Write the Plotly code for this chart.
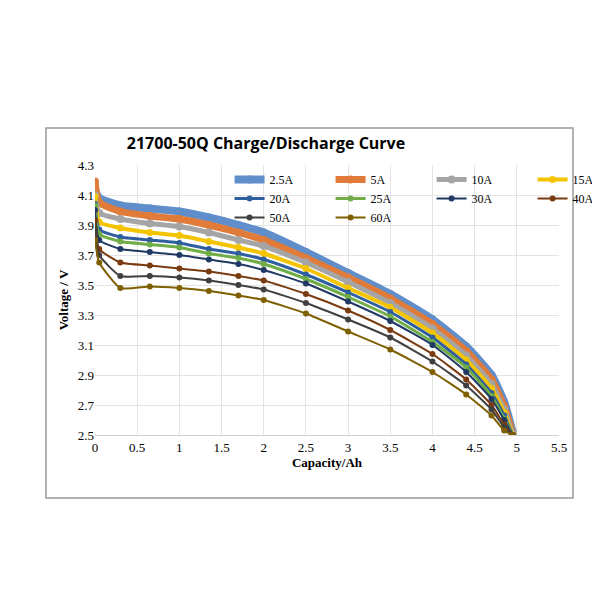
import plotly.graph_objects as go

capacity = [0, 0.05, 0.3, 0.65, 1.0, 1.35, 1.7, 2.0, 2.5, 3.0, 3.5, 4.0, 4.4, 4.7, 4.85, 4.95]
labels = ["2.5A", "5A", "10A", "15A", "20A", "25A", "30A", "40A", "50A", "60A"]
colors = ["#5f8ecb", "#e07b39", "#a5a5a5", "#f5c400", "#2e5e9e", "#70ad47", "#1f3864", "#7a3b10", "#404040", "#7f6000"]
v_2_5 = [4.13, 4.08, 4.03, 4.01, 3.99, 3.95, 3.90, 3.85, 3.72, 3.58, 3.44, 3.27, 3.09, 2.90, 2.72, 2.52]
v_5 = [4.19, 4.05, 3.99, 3.96, 3.94, 3.90, 3.85, 3.80, 3.68, 3.55, 3.41, 3.24, 3.06, 2.87, 2.69, 2.51]
v_10 = [4.10, 3.98, 3.94, 3.91, 3.89, 3.85, 3.80, 3.76, 3.65, 3.52, 3.38, 3.21, 3.03, 2.84, 2.67, 2.51]
v_15 = [4.09, 3.92, 3.88, 3.85, 3.83, 3.79, 3.75, 3.71, 3.61, 3.48, 3.35, 3.18, 3.00, 2.81, 2.65, 2.50]
v_20 = [4.04, 3.87, 3.82, 3.80, 3.78, 3.74, 3.71, 3.67, 3.57, 3.45, 3.32, 3.15, 2.97, 2.78, 2.63, 2.50]
v_25 = [4.03, 3.84, 3.79, 3.77, 3.75, 3.71, 3.68, 3.64, 3.54, 3.42, 3.29, 3.12, 2.95, 2.76, 2.61, 2.50]
v_30 = [4.00, 3.80, 3.74, 3.72, 3.70, 3.67, 3.64, 3.60, 3.51, 3.39, 3.26, 3.10, 2.92, 2.74, 2.60, 2.50]
v_40 = [3.93, 3.74, 3.65, 3.63, 3.61, 3.59, 3.56, 3.53, 3.44, 3.33, 3.20, 3.04, 2.87, 2.70, 2.57, 2.50]
v_50 = [3.87, 3.70, 3.56, 3.56, 3.55, 3.53, 3.50, 3.47, 3.38, 3.27, 3.15, 2.99, 2.83, 2.67, 2.55, 2.50]
v_60 = [3.80, 3.65, 3.48, 3.49, 3.48, 3.46, 3.43, 3.40, 3.31, 3.19, 3.07, 2.92, 2.77, 2.63, 2.53, 2.50]
series = [v_2_5, v_5, v_10, v_15, v_20, v_25, v_30, v_40, v_50, v_60]
widths = [8, 7, 5, 4, 3, 3, 2, 2, 2, 2]
msizes = [8, 8, 8, 7, 6, 6, 6, 6, 6, 6]

fig = go.Figure()
for lab, col, v, w, ms in zip(labels, colors, series, widths, msizes):
    fig.add_trace(go.Scatter(x=capacity, y=v, name=lab, mode="lines+markers",
                             line=dict(color=col, width=w, shape="spline", smoothing=0.5),
                             marker=dict(color=col, size=ms)))

serif = "Liberation Serif"
fig.update_layout(
    width=600, height=600, paper_bgcolor="white", plot_bgcolor="white",
    margin=dict(l=87, r=49, t=157, b=173, autoexpand=False),
    title=dict(text="<b>21700-50Q Charge/Discharge Curve</b>", x=0.43, xanchor="center",
               y=0.775, yanchor="middle", font=dict(family="Open Sans", size=16, color="black")),
    xaxis=dict(range=[0, 5.5], tick0=0, dtick=0.5, showgrid=True, gridcolor="#e3e3e3", zeroline=False,
               tickfont=dict(family=serif, size=13, color="black"), showline=True, linecolor="#d0d0d0",
               title=dict(text="<b>Capacity/Ah</b>", font=dict(family=serif, size=13, color="black"), standoff=4)),
    yaxis=dict(range=[2.5, 4.3], tick0=2.5, dtick=0.2, tickformat=".1f", showgrid=True, gridcolor="#e3e3e3", zeroline=False,
               tickfont=dict(family=serif, size=13, color="black"),
               title=dict(text="<b>Voltage / V</b>", font=dict(family=serif, size=13, color="black"), standoff=6)),
    legend=dict(orientation="h", x=0.29, y=1.0, xanchor="left", yanchor="top",
                entrywidth=56, entrywidthmode="pixels", itemwidth=30, bgcolor="rgba(255,255,255,0)",
                tracegroupgap=0, font=dict(family=serif, size=12, color="black")),
    showlegend=True,
)
fig.add_shape(type="rect", xref="paper", yref="paper",
              x0=(38 - 87) / 464, x1=(565 - 87) / 464, y0=(427 - 490) / 270, y1=(427 - 120) / 270,
              line=dict(color="#999999", width=1.5), layer="below")
fig.write_html("out.html")
